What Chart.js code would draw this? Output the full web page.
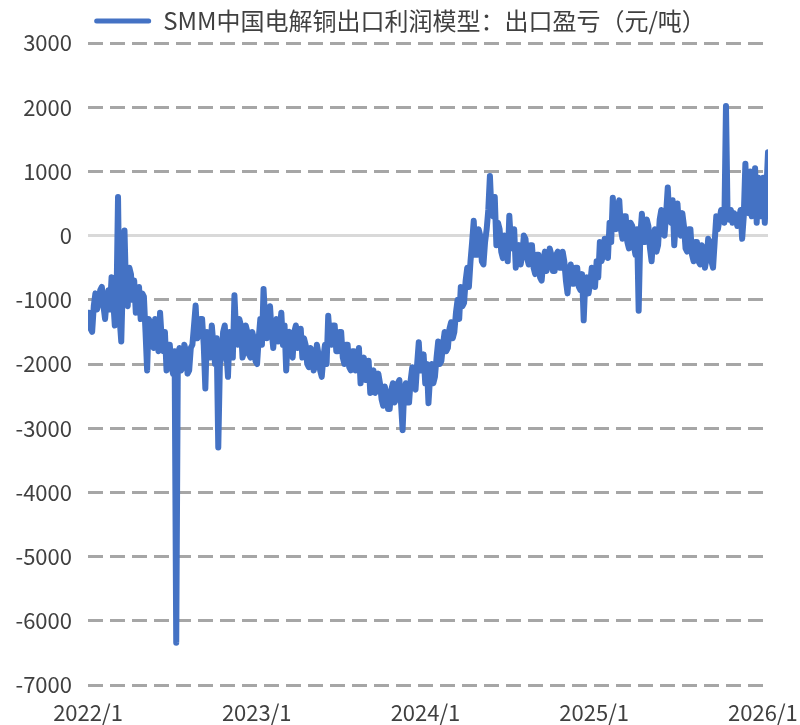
<!DOCTYPE html>
<html><head><meta charset="utf-8">
<script src="https://cdn.jsdelivr.net/npm/chart.js@4"></script>
<style>html,body{margin:0;padding:0;background:#fff}</style>
</head><body>
<canvas id="c" width="800" height="725" style="width:800px;height:725px;display:block"></canvas>
<script>
const seriesName = 'SMM中国电解铜出口利润模型：出口盈亏（元/吨）';
// twice-weekly readings starting first week of Jan 2022 (yuan/ton)
const profit = [
 -1200,-1450, -1500,-1100, -900,-1150, -1050,-850, -800,-1100,
 -1300,-1000, -850,-1150, -650,-1000, -1400,-1100, 600,-1300,
 -1650,-700, 80,-900, -1100,-500, -600,-1000, -700,-1200,
 -1000,-800, -1300,-900, -950,-1500, -2100,-1300, -1350,-1700,
 -1750,-1300, -1400,-1800, -1200,-1600, -1800,-1500, -2100,-1700,
 -1700,-2000, -2150,-1800, -6340,-1900, -1750,-2100, -2050,-1700,
 -1800,-2150, -2100,-1750, -1700,-1400, -1090,-1600, -1550,-1300,
 -1300,-1700, -2380,-1500, -1600,-1900, -1400,-1700, -2000,-1600,
 -3300,-2000, -1900,-1500, -1400,-1800, -2200,-1500, -1600,-1900,
 -930,-1500, -1700,-1300, -1400,-1900, -1800,-1400, -1500,-1850,
 -1900,-1500, -1600,-1950, -2000,-1600, -1300,-1700, -830,-1300,
 -1600,-1200, -1100,-1500, -1750,-1400, -1300,-1650, -1450,-1200,
 -1700,-1400, -2100,-1600, -1500,-1800, -1900,-1500, -1400,-1750,
 -1700,-1450, -1900,-1600, -1700,-2000, -2050,-1750, -1800,-2100,
 -2000,-1700, -1850,-2100, -2200,-1900, -1700,-2000, -1250,-1600,
 -1700,-1400, -1400,-1800, -1800,-1500, -1500,-1900, -2000,-1700,
 -1700,-2050, -2100,-1800, -1800,-2100, -2000,-1750, -2300,-1950,
 -1900,-2250, -2200,-1950, -2450,-2150, -2100,-2450, -2400,-2150,
 -2300,-2550, -2650,-2350, -2500,-2700, -2700,-2400, -2300,-2600,
 -2550,-2300, -2250,-2600, -3030,-2400, -2300,-2600, -2600,-2250,
 -2050,-2350, -2400,-2000, -1660,-2100, -2100,-1850, -2300,-2000,
 -2610,-2200, -2000,-2300, -2200,-1900, -1650,-2000, -1950,-1700,
 -1500,-1800, -1750,-1450, -1350,-1600, -1500,-1200, -1000,-1300,
 -800,-1100, -1050,-700, -500,-800, -400,-100, 230,-300,
 -300,100, 0,-400, -450,-100, 100,400, 930,350,
 300,600, -150,200, 100,-250, -350,0, -100,-400,
 310,-100, -200,100, -500,-200, -150,-450, -300,0,
 -50,-350, -450,-150, -150,-500, -600,-300, -300,-650,
 -700,-400, -250,-550, -450,-200, -300,-550, -550,-300,
 -250,-500, -500,-250, -400,-700, -900,-550, -450,-750,
 -750,-500, -500,-800, -850,-600, -1320,-700, -650,-900,
 -750,-500, -550,-800, -400,-650, -100,-400, -300,-50,
 -50,-350, 200,-100, 590,150, 100,450, 550,100,
 -50,300, 300,-100, -200,200, 150,-150, -300,100,
 -1170,0, 340,-100, -100,250, 150,-200, -400,-50,
 100,-250, -150,250, 400,50, 0,350, 750,250,
 200,550, -150,200, 500,100, 0,350, 150,-200,
 -250,100, 100,-300, -400,-100, -100,-400, -450,-150,
 -200,-500, -350,-50, -100,-400, -500,-100, 300,100,
 250,400, 350,200, 2020,300, 250,400, 200,350,
 300,150, 250,400, -50,300, 1120,400, 350,1000,
 300,600, 1050,200, 900,300, 300,900, 200,700,
 1300
];
const xTickYears = [2022, 2023, 2024, 2025, 2026];
const xTickLabels = ['2022/1', '2023/1', '2024/1', '2025/1', '2026/1'];
const yTicks = [3000, 2000, 1000, 0, -1000, -2000, -3000, -4000, -5000, -6000, -7000];

const points = profit.map((v, i) => ({ x: 2022 + (2 + i * 3.5) / 365.25, y: v }));
const FONT = '"Noto Sans CJK SC", "Noto Sans", sans-serif';
const BLUE = '#4472C4';

new Chart(document.getElementById('c'), {
  type: 'line',
  data: { datasets: [{
    label: seriesName, data: points, borderColor: BLUE, backgroundColor: BLUE,
    borderWidth: 6, pointRadius: 0, tension: 0, borderJoinStyle: 'round', borderCapStyle: 'round'
  }]},
  options: {
    responsive: false, animation: false,
    layout: { padding: 0 },
    plugins: {
      tooltip: { enabled: false },
      legend: {
        display: true, position: 'top',
        labels: {
          font: { family: FONT, size: 24 }, color: '#404040', padding: 9,
          boxWidth: 57, boxHeight: 5,
          generateLabels: () => [{ text: seriesName, fillStyle: BLUE, strokeStyle: BLUE, lineWidth: 0, borderRadius: 2.5, datasetIndex: 0, hidden: false, fontColor: '#404040' }]
        }
      }
    },
    scales: {
      x: {
        type: 'linear', min: 2022, max: 2026.03,
        afterBuildTicks: s => { s.ticks = xTickYears.map(v => ({ value: v })); },
        afterFit: s => { s.height = 40; s.paddingLeft = 0; s.paddingRight = 0; },
        ticks: { font: { family: FONT, size: 22 }, color: '#404040', padding: 6, maxRotation: 0, autoSkip: false,
          callback: v => xTickLabels[xTickYears.indexOf(v)] },
        grid: { display: false }, border: { display: false }
      },
      y: {
        min: -7000, max: 3000,
        afterBuildTicks: s => { s.ticks = yTicks.map(v => ({ value: v })); },
        afterFit: s => { s.width = 88; },
        ticks: { font: { family: FONT, size: 22 }, color: '#404040', padding: 16, callback: v => String(v) },
        grid: { drawTicks: false, lineWidth: 3, color: c => (c.tick && c.tick.value === 0) ? '#D9D9D9' : '#A6A6A6' },
        border: { display: false, dash: c => (c.tick && c.tick.value === 0) ? [] : [15, 7] }
      },
      yR: {
        position: 'right', min: 0, max: 1, display: true,
        ticks: { display: false }, grid: { display: false }, border: { display: false },
        afterFit: s => { s.width = 32; }
      }
    }
  }
});
</script>
</body></html>
